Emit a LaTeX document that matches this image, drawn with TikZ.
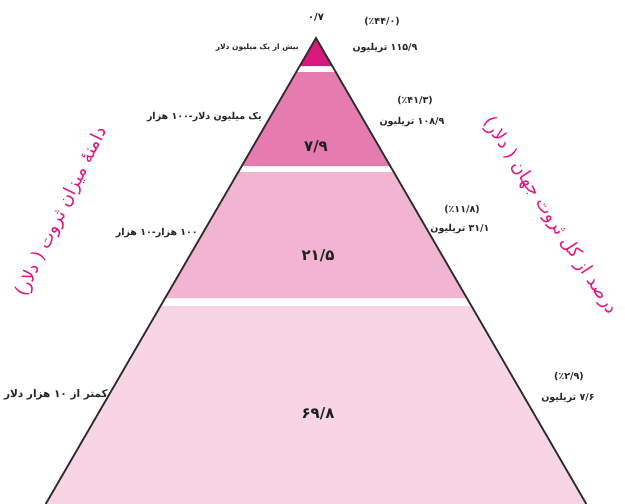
\documentclass[tikz,border=0pt]{standalone}
\usepackage{fontspec}
\newfontfamily\fa[Script=Arabic]{DejaVu Sans}
\TeXXeTstate=1
\definecolor{bandA}{HTML}{D8197D}
\definecolor{bandB}{HTML}{E57BAF}
\definecolor{bandC}{HTML}{F1B5D1}
\definecolor{bandD}{HTML}{F8D5E5}
\definecolor{edgegray}{HTML}{2E2E2E}
\definecolor{labelmag}{HTML}{E5157F}
\definecolor{txtgray}{HTML}{262626}
\tikzset{
  band/.style={draw=none},
  sidelabel/.style={font=\fa\bfseries\fontsize{9.5}{11}\selectfont, text=txtgray, inner sep=0pt},
  smalllabel/.style={font=\fa\bfseries\fontsize{7.5}{9}\selectfont, text=txtgray, inner sep=0pt},
  valuelabel/.style={font=\fa\bfseries\fontsize{15}{17}\selectfont, text=txtgray!85!black, inner sep=0pt},
  axislabel/.style={font=\fa\fontsize{18}{20}\selectfont, text=labelmag, inner sep=0pt},
  edge/.style={draw=edgegray, line width=1.8pt}
}
\begin{document}
\begin{tikzpicture}[x=1pt,y=-1pt]
\useasboundingbox (0,0) rectangle (625,504);
\fill[white] (0,0) rectangle (625,504);
\begin{scope}
\clip (0,0) rectangle (625,504);
% pyramid corners
\coordinate (apex) at (316,38);
\coordinate (base-l) at (45.7,504);
\coordinate (base-r) at (586.3,504);
% bands
\fill[bandA] (apex) -- (332.2,66) -- (299.8,66) -- cycle;
\fill[bandB] (296.3,72) -- (335.7,72) -- (390.2,166) -- (241.8,166) -- cycle;
\fill[bandC] (238.3,172) -- (393.7,172) -- (466.8,298) -- (165.2,298) -- cycle;
\fill[bandD] (160.6,306) -- (471.4,306) -- (base-r) -- (base-l) -- cycle;
% sides
\draw[edge, line join=miter] (base-l) -- (apex) -- (base-r);
% top
\node[valuelabel, font=\fa\bfseries\fontsize{10}{12}\selectfont] (v1) at (316,17) {۰/۷};
\node[smalllabel, anchor=east] (l1) at (299,48) {\beginR بیش از یک میلیون دلار\endR};
\node[sidelabel] (p1) at (382,22) {(٪۴۴/۰)};
\node[sidelabel] (t1) at (385,48) {\beginR ۱۱۵/۹ تریلیون\endR};
% band 2
\node[valuelabel] (v2) at (316,147) {۷/۹};
\node[sidelabel, anchor=east] (l2) at (262,117) {\beginR یک میلیون دلار-۱۰۰ هزار\endR};
\node[sidelabel] (p2) at (415,101) {(٪۴۱/۳)};
\node[sidelabel] (t2) at (412,122) {\beginR ۱۰۸/۹ تریلیون\endR};
% band 3
\node[valuelabel] (v3) at (318,256) {۲۱/۵};
\node[sidelabel, anchor=east] (l3) at (198,233) {\beginR ۱۰۰ هزار-۱۰ هزار\endR};
\node[sidelabel] (p3) at (462,210) {(٪۱۱/۸)};
\node[sidelabel] (t3) at (460,229) {\beginR ۳۱/۱ تریلیون\endR};
% band 4
\node[valuelabel] (v4) at (318,414) {۶۹/۸};
\node[sidelabel, anchor=east, font=\fa\bfseries\fontsize{10.5}{12}\selectfont] (l4) at (108,395) {\beginR کمتر از ۱۰ هزار دلار\endR};
\node[sidelabel] (p4) at (569,377) {(٪۲/۹)};
\node[sidelabel] (t4) at (568,398) {\beginR ۷/۶ تریلیون\endR};
% axis labels
\node[axislabel, rotate=64] (axl) at (62,212) {\beginR دامنهٔ میزان ثروت ( دلار)\endR};
\node[axislabel, rotate=-57] (axr) at (550,216) {\beginR درصد از کل ثروت جهان ( دلار)\endR};
\end{scope}
\end{tikzpicture}
\end{document}
